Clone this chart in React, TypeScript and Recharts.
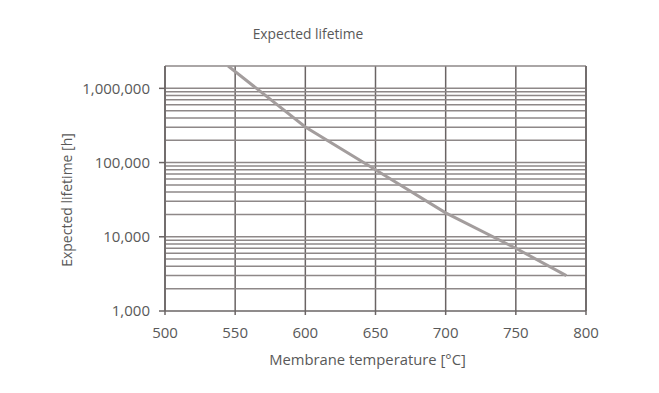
import React from 'react';
import { LineChart, Line, XAxis, YAxis, CartesianGrid, ReferenceLine, Label } from 'recharts';

const temperatures = [545, 600, 650, 700, 750, 786];
const lifetimes = [2000000, 302000, 80000, 21000, 7000, 3000];

const xTicks = [500, 550, 600, 650, 700, 750, 800];
const yTicks = [1000, 10000, 100000, 1000000];
const gridValues = [
  2000, 3000, 4000, 5000, 6000, 7000, 8000, 9000, 10000,
  20000, 30000, 40000, 50000, 60000, 70000, 80000, 90000, 100000,
  200000, 300000, 400000, 500000, 600000, 700000, 800000, 900000, 1000000,
  2000000,
];

const data = temperatures.map((t, i) => ({ t, life: lifetimes[i] }));

const FONT = '"Open Sans", "Liberation Sans", sans-serif';
const TEXT = '#595959';
const HGRID = '#8e8888';
const VGRID = '#6a6464';

const fmt = (v: number) => v.toLocaleString('en-US');

export default function App() {
  return (
    <div style={{ position: 'relative', width: 643, height: 377, fontFamily: FONT }}>
      <div
        style={{
          position: 'absolute',
          left: 0,
          width: 600,
          top: 16,
          textAlign: 'center',
          fontSize: 13.8,
          color: TEXT,
          fontFamily: FONT,
        }}
      >
        Expected lifetime
      </div>
      <LineChart
        width={643}
        height={377}
        data={data}
        margin={{ top: 58, right: 65, bottom: 34, left: 0 }}
      >
        <CartesianGrid horizontal={false} vertical={true} stroke={VGRID} strokeWidth={1.5} />
        {gridValues.map((v) => (
          <ReferenceLine key={v} y={v} stroke={HGRID} strokeWidth={1.5} />
        ))}
        <ReferenceLine x={800} stroke={VGRID} strokeWidth={1.5} />
        <XAxis
          dataKey="t"
          type="number"
          domain={[500, 800]}
          ticks={xTicks}
          height={40}
          tickSize={4}
          tickMargin={12}
          stroke={VGRID}
          strokeWidth={1.5}
          tick={{ fill: TEXT, fontSize: 15, fontFamily: FONT }}
        >
          <Label
            value="Membrane temperature [°C]"
            position="bottom"
            offset={3}
            dx={-8}
            fill={TEXT}
            fontSize={14.8}
            fontFamily={FONT}
          />
        </XAxis>
        <YAxis
          scale="log"
          type="number"
          domain={[1000, 2000000]}
          allowDataOverflow
          ticks={yTicks}
          width={157}
          tickSize={6}
          tickMargin={9}
          tickFormatter={fmt}
          stroke={VGRID}
          strokeWidth={1.5}
          tick={{ fill: TEXT, fontSize: 15, fontFamily: FONT }}
        >
          <Label
            value="Expected lifetime [h]"
            position="center"
            angle={-90}
            dx={-19.5}
            dy={11.5}
            fill={TEXT}
            fontSize={14}
            fontFamily={FONT}
          />
        </YAxis>
        <Line
          dataKey="life"
          stroke="#a39d9d"
          strokeWidth={3}
          dot={false}
          isAnimationActive={false}
        />
      </LineChart>
    </div>
  );
}
